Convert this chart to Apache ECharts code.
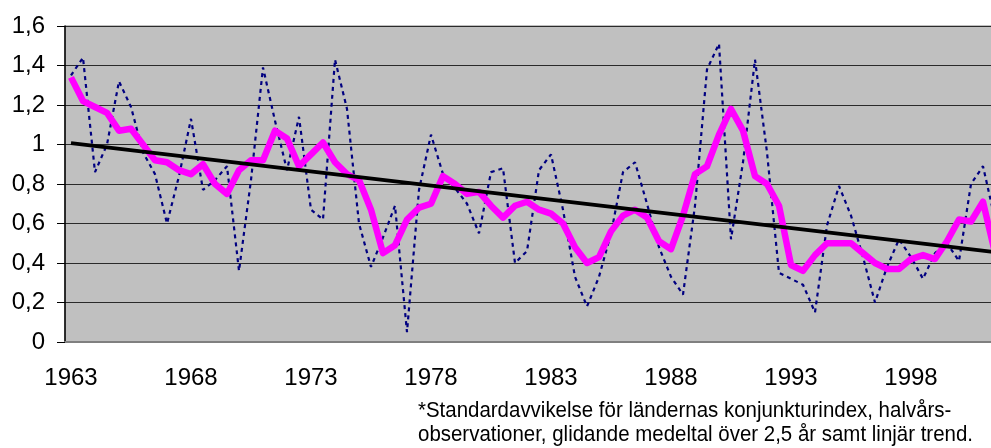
<!DOCTYPE html>
<html>
<head>
<meta charset="utf-8">
<script src="https://cdn.jsdelivr.net/npm/echarts@6/dist/echarts.min.js"></script>
<style>
  html, body { margin: 0; padding: 0; background: #fff; overflow: hidden; }
  /* plotytan fortsätter utanför bildkanten, som i originalet */
  #chart { width: 1002px; height: 448px; }
</style>
</head>
<body>
<div id="chart"></div>
<script>
// halvårsobservationer 1963:1 - 2001:2
const firstYear = 1963;
const nPeriods = 78;
const categories = [];
for (let i = 0; i < nPeriods; i++) {
  categories.push((firstYear + Math.floor(i / 2)) + ':' + (i % 2 + 1));
}

// standardavvikelse per halvår (streckad linje)
const halfYearValues = [
  1.35, 1.44, 0.86, 1.00, 1.32, 1.19, 0.96, 0.85, 0.60, 0.84,
  1.13, 0.77, 0.82, 0.89, 0.36, 0.82, 1.39, 1.12, 0.87, 1.14,
  0.67, 0.62, 1.43, 1.18, 0.60, 0.38, 0.53, 0.69, 0.05, 0.77,
  1.05, 0.85, 0.78, 0.70, 0.55, 0.86, 0.88, 0.40, 0.46, 0.87,
  0.95, 0.67, 0.33, 0.18, 0.33, 0.55, 0.86, 0.91, 0.70, 0.48,
  0.33, 0.24, 0.69, 1.38, 1.51, 0.52, 0.91, 1.43, 0.96, 0.35,
  0.32, 0.29, 0.15, 0.59, 0.79, 0.64, 0.43, 0.20, 0.38, 0.52,
  0.43, 0.32, 0.45, 0.50, 0.41, 0.80, 0.89, 0.62
];

// glidande medeltal över 2,5 år
const movingAverage = [
  1.34, 1.22, 1.19, 1.16, 1.07, 1.08, 1.00, 0.92, 0.91, 0.87,
  0.85, 0.90, 0.80, 0.75, 0.87, 0.92, 0.92, 1.07, 1.03, 0.89,
  0.95, 1.01, 0.91, 0.85, 0.82, 0.67, 0.45, 0.49, 0.62, 0.68,
  0.70, 0.84, 0.80, 0.75, 0.76, 0.69, 0.63, 0.69, 0.71, 0.67,
  0.65, 0.60, 0.48, 0.40, 0.43, 0.56, 0.64, 0.67, 0.63, 0.51,
  0.47, 0.64, 0.85, 0.89, 1.05, 1.18, 1.07, 0.84, 0.80, 0.69,
  0.39, 0.36, 0.44, 0.50, 0.50, 0.50, 0.45, 0.40, 0.37, 0.37,
  0.42, 0.44, 0.42, 0.51, 0.62, 0.61, 0.71, 0.45
];

// linjär trend: start- och slutvärde
const trendStart = 1.007;
const trendEnd = 0.455;

const yTicks = { min: 0, max: 1.6, step: 0.2 };

const footnote = '*Standardavvikelse för ländernas konjunkturindex, halvårs-\n' +
  'observationer, glidande medeltal över 2,5 år samt linjär trend.';

const font = "'Liberation Sans', Arial, sans-serif";

const myChart = echarts.init(document.getElementById('chart'), null, { renderer: 'canvas' });

myChart.setOption({
  animation: false,
  backgroundColor: '#ffffff',
  grid: {
    left: 65,
    top: 26,
    right: 1,
    height: 316,
    show: true,
    backgroundColor: '#c0c0c0',
    borderColor: '#808080',
    borderWidth: 1,
  },
  xAxis: {
    type: 'category',
    data: categories,
    boundaryGap: true,
    axisLine: { lineStyle: { color: '#808080', width: 2 } },
    axisTick: {
      interval: 1,
      length: 8,
      lineStyle: { color: '#000', width: 1 },
    },
    axisLabel: {
      interval: 9,
      margin: 24,
      fontSize: 24,
      fontFamily: font,
      color: '#000',
      formatter: (v) => v.split(':')[0],
    },
    splitLine: { show: false },
  },
  yAxis: {
    type: 'value',
    min: yTicks.min,
    max: yTicks.max,
    interval: yTicks.step,
    axisLine: { show: true, lineStyle: { color: '#000', width: 1.5 } },
    axisTick: { show: true, length: 8, lineStyle: { color: '#000' } },
    axisLabel: {
      margin: 20,
      fontSize: 24,
      fontFamily: font,
      color: '#000',
      formatter: (v) => String(+v.toFixed(1)).replace('.', ','),
    },
    splitLine: { lineStyle: { color: '#2a2a2a', width: 1 } },
  },
  series: [
    {
      type: 'line',
      name: 'halvår',
      data: halfYearValues,
      symbol: 'none',
      lineStyle: { color: '#000080', width: 2.2, type: [4, 4] },
      z: 2,
    },
    {
      type: 'line',
      name: 'medeltal',
      data: movingAverage,
      symbol: 'none',
      lineStyle: { color: '#ff00ff', width: 6.5, join: 'round' },
      z: 3,
    },
    {
      type: 'line',
      name: 'trend',
      data: [[0, trendStart], [nPeriods - 1, trendEnd]],
      symbol: 'none',
      lineStyle: { color: '#000', width: 4 },
      z: 4,
    },
  ],
  graphic: [
    {
      type: 'text',
      x: 418,
      y: 399,
      scaleX: 0.93,
      style: {
        text: footnote,
        font: '22px ' + font,
        lineHeight: 24,
        fill: '#000',
      },
    },
  ],
});
</script>
</body>
</html>
